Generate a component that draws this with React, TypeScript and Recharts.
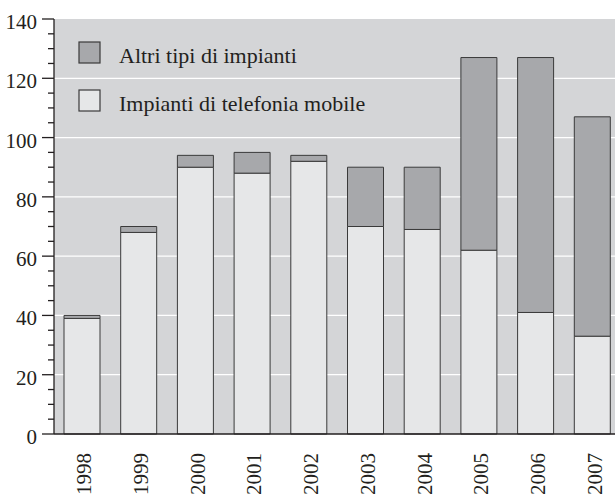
import { BarChart, Bar, XAxis, YAxis, CartesianGrid } from 'recharts';

const years = ['1998', '1999', '2000', '2001', '2002', '2003', '2004', '2005', '2006', '2007'];
const mobile = [39, 68, 90, 88, 92, 70, 69, 62, 41, 33];
const altri = [1, 2, 4, 7, 2, 20, 21, 65, 86, 74];
const yTicks = [0, 5, 10, 15, 20, 25, 30, 35, 40, 45, 50, 55, 60, 65, 70, 75, 80, 85, 90, 95, 100, 105, 110, 115, 120, 125, 130, 135, 140];
const gridValues = [20, 40, 60, 80, 100, 120];

const series = [
  { key: 'altri', name: 'Altri tipi di impianti', color: '#a7a8ab' },
  { key: 'mobile', name: 'Impianti di telefonia mobile', color: '#e6e7e8' },
];

const data = years.map((year, i) => ({ year, mobile: mobile[i], altri: altri[i] }));

const FONT = '"Liberation Serif", "Times New Roman", Times, "DejaVu Serif", serif';
const INK = '#231f20';
const EDGE = '#3a3a3a';
const textStyle = { fontFamily: FONT };

const YTick = ({ x, y, payload }: any) => {
  const major = payload.value % 20 === 0;
  return (
    <g>
      <line x1={x - (major ? 12 : 6)} x2={x} y1={y} y2={y} stroke={INK} strokeWidth={1.3} />
      {major && (
        <text x={x - 17} y={y + 10} textAnchor="end" style={textStyle} fontSize={21} fill={INK}>
          {payload.value}
        </text>
      )}
    </g>
  );
};

const XTick = ({ x, y, payload }: any) => (
  <text
    x={x + 9}
    y={y + 19}
    transform={`rotate(-90, ${x + 9}, ${y + 19})`}
    textAnchor="end"
    style={textStyle}
    fontSize={21}
    fill={INK}
  >
    {payload.value}
  </text>
);

export default function App() {
  return (
    <div style={{ position: 'absolute', left: 0, top: 0, width: 615, height: 496, overflow: 'hidden', background: '#fff' }}>
      <BarChart width={625} height={496} data={data} margin={{ top: 19, right: 4, bottom: 0, left: 0 }}>
        <CartesianGrid
          vertical={false}
          horizontalValues={gridValues}
          stroke="#ffffff"
          strokeWidth={1.3}
          fill="#d4d5d7"
          fillOpacity={1}
        />
        <XAxis
          dataKey="year"
          height={62}
          tickLine={false}
          tickSize={0}
          tickMargin={0}
          interval={0}
          axisLine={{ stroke: INK, strokeWidth: 1.3 }}
          tick={<XTick />}
        />
        <YAxis
          width={54}
          domain={[0, 140]}
          ticks={yTicks}
          interval={0}
          tickLine={false}
          tickSize={0}
          tickMargin={0}
          axisLine={{ stroke: INK, strokeWidth: 1.3 }}
          tick={<YTick />}
        />
        <Bar dataKey="mobile" stackId="a" barSize={36} fill="#e6e7e8" stroke={EDGE} strokeWidth={1} isAnimationActive={false} />
        <Bar dataKey="altri" stackId="a" barSize={36} fill="#a7a8ab" stroke={EDGE} strokeWidth={1} isAnimationActive={false} />
      </BarChart>
      <svg width={615} height={130} style={{ position: 'absolute', left: 0, top: 0 }}>
        {series.map((s, i) => (
          <g key={s.key}>
            <rect x={79} y={42 + i * 48} width={21} height={21} fill={s.color} stroke={EDGE} strokeWidth={1.2} />
            <text x={119} y={63 + i * 48} style={textStyle} fontSize={22} fill={INK}>
              {s.name}
            </text>
          </g>
        ))}
      </svg>
    </div>
  );
}
